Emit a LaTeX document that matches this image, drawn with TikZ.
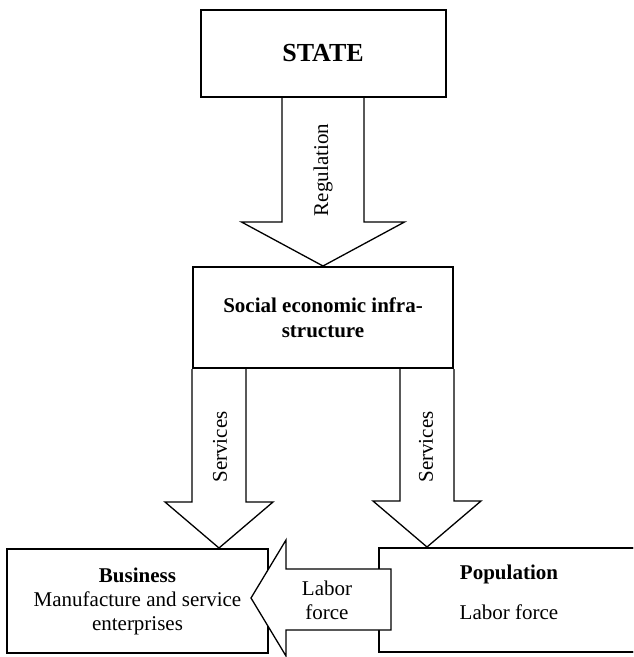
\documentclass[tikz,border=0pt]{standalone}
\usepackage{fontspec}
\setmainfont{Liberation Serif}
\usetikzlibrary{calc}

\tikzset{
  box/.style={draw, line width=2pt, inner sep=0pt, align=center, font=\fontsize{21}{24}\selectfont},
  blockarrow/.style={draw, fill=white, line width=1.3pt, line join=miter},
  armtext/.style={inner sep=0pt, align=center, font=\fontsize{21}{24}\selectfont}
}

% down block arrow: start, tip, half shaft, half head, head length
\newcommand{\blockdown}[5]{%
  \draw [blockarrow] let \p1=(#1), \p2=(#2) in
    (\x1-#3,\y1) -- (\x1-#3,\y2+#5) -- (\x2-#4,\y2+#5) -- (\x2,\y2)
    -- (\x2+#4,\y2+#5) -- (\x1+#3,\y2+#5) -- (\x1+#3,\y1);
}

\begin{document}
\begin{tikzpicture}[x=1pt, y=1pt]
\useasboundingbox (0,0) rectangle (633,-657);
\clip (0,0) rectangle (633,-657);

% boxes (placed only, drawn after the down arrows)
\path (323,-53.5) node [box, minimum width=245, minimum height=87] (state) {};
\path (323,-317.5) node [box, minimum width=260, minimum height=101] (social) {};
\path (137.5,-601) node [box, minimum width=261, minimum height=104] (business) {};
\path (509,-600) node [box, minimum width=260, minimum height=104] (population) {};

\coordinate (sl) at ($(social.south west)+(27,0)$);
\coordinate (sr) at ($(social.south east)+(-27,0)$);

\blockdown{state.south}{social.north}{41}{81.5}{44}
\blockdown{sl}{sl |- business.north}{27}{54}{46}
\blockdown{sr}{sr |- population.north}{27}{54}{46}

\node [box, minimum width=245, minimum height=87, font=\fontsize{26}{30}\selectfont\bfseries] at (state) {STATE};
\node [box, minimum width=260, minimum height=101, font=\fontsize{21}{25}\selectfont\bfseries] at (social) {Social economic infra-\\structure};
\node [box, minimum width=261, minimum height=104] at (business) {\textbf{Business}\\Manufacture and service\\enterprises};
\node [box, minimum width=260, minimum height=104] at (population) {};
\node [armtext] (poptext) at ($(population.center)+(0,8)$) {\textbf{Population}\\[16pt]Labor force};

% labor force arrow, over both boxes
\draw [blockarrow] let \p1=(business.east), \p2=(population.west) in
  (\x1-18,\y1+3) -- (\x1+17,\y1+61) -- (\x1+17,\y1+32) -- (\x2+13,\y1+32)
  -- (\x2+13,\y1-29) -- (\x1+17,\y1-29) -- (\x1+17,\y1-55) -- cycle;

\node [armtext, rotate=90] (regtext) at (323,-170) {Regulation};
\node [armtext, rotate=90] (servl) at (220,-447) {Services};
\node [armtext, rotate=90] (servr) at (426,-447) {Services};
\node [armtext] (labtext) at (327,-600) {Labor\\force};
\end{tikzpicture}
\end{document}
